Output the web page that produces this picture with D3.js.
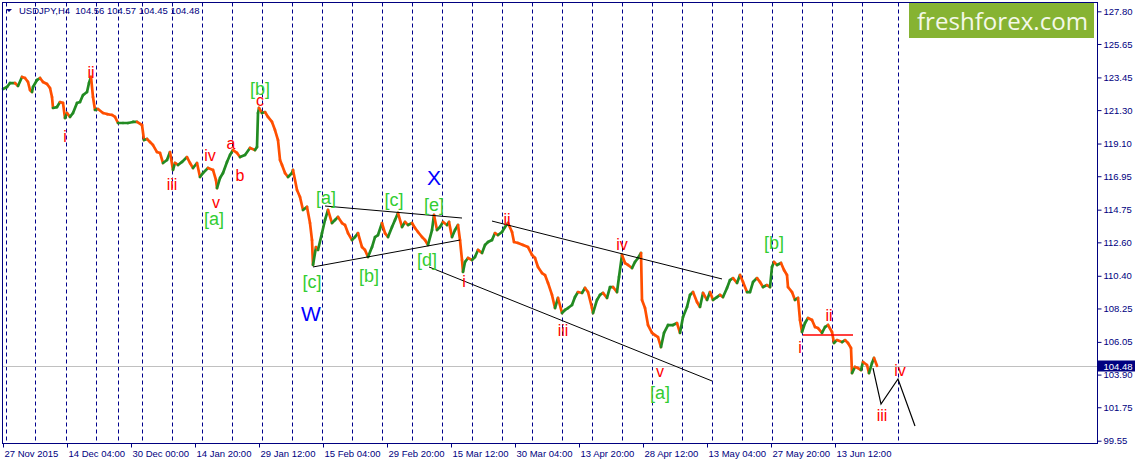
<!DOCTYPE html>
<html><head><meta charset="utf-8">
<script src="https://cdn.jsdelivr.net/npm/d3@7"></script>
<style>
html,body{margin:0;padding:0;background:#fff;}
svg{display:block;}
text{font-family:"Liberation Sans",Arial,sans-serif;}
</style></head>
<body>
<svg id="c" width="1137" height="464"></svg>
<script>
// ---- data (bar index = H4 bars since 27 Nov 2015) ----
const bars = [0,4,7,12,15,19,22,25,27,29,30,34,37,40,44,47,49,50,54,57,60,62,64,67,70,74,77,80,84,86,88,90,92,95,100,104,109,112,115,120,125,130,134,139,141,144,147,150,154,157,160,164,167,170,172,175,179,184,187,190,194,197,200,205,210,213,214,217,220,224,227,230,234,237,242,247,252,254,255,256,259,262,265,269,272,275,277,279,282,285,289,290,294,297,300,304,307,309,310,313,315,319,322,325,329,332,335,339,342,345,349,352,355,359,362,365,369,372,375,379,382,385,389,392,395,399,402,405,409,412,415,419,422,425,429,431,434,437,440,444,446,449,452,455,457,459,460,462,465,469,472,475,479,482,485,489,492,495,499,502,505,509,511,515,520,525,529,532,535,539,542,545,549,552,555,559,562,565,569,572,575,579,582,585,589,590,594,597,600,604,607,610,614,616,619,622,625,629,632,635,638,639,642,645,649,652,655,658,661,665,670,674,677,680,684,687,690,694,697,700,704,707,710,714,717,720,724,727,730,734,737,740,744,747,750,754,757,760,764,767,769,771,774,778,781,784,785,789,792,795,797,799,802,805,809,812,815,819,822,825,829,831,834,839,842,845,848,849,852,855,858,860,864,866,869,871,874];
const closes = [122.69,122.82,123.08,123.08,122.89,123.48,123.41,123.15,122.62,122.49,
122.82,123.28,123.41,123.15,123.02,122.75,122.16,121.44,121.50,121.83,
121.77,120.78,121.11,120.85,121.11,121.77,121.83,122.29,122.49,123.08,
123.48,122.16,121.31,121.37,121.11,121.04,120.98,120.85,120.45,120.45,
120.45,120.52,120.52,120.32,119.33,119.40,119.20,119.00,118.54,118.48,
117.82,118.02,118.54,117.36,117.82,117.69,117.89,118.21,117.82,117.49,
117.82,116.90,117.16,117.49,117.36,116.70,116.17,116.83,117.16,117.89,
118.35,118.67,118.48,118.21,118.35,118.81,118.67,118.87,121.11,121.44,
121.11,121.17,120.85,120.52,119.99,119.33,118.02,117.69,117.16,116.90,
117.16,117.36,116.04,115.58,114.73,114.93,113.87,112.75,111.11,112.29,
112.10,113.21,114.07,114.73,113.87,114.07,114.27,113.87,113.74,113.21,
112.75,112.95,113.21,112.29,112.10,111.64,112.29,112.95,113.08,113.87,
113.21,112.95,113.61,114.07,114.53,113.61,113.94,113.74,113.87,113.54,
113.28,112.95,112.75,112.43,113.41,114.40,113.41,113.61,113.94,113.74,
113.94,112.95,113.41,113.74,112.75,111.44,110.65,111.31,111.57,111.44,
111.64,112.10,111.90,112.43,112.62,112.75,113.21,113.08,113.28,113.61,
113.87,113.28,112.62,112.56,112.43,112.29,111.77,111.57,110.98,110.58,
110.45,109.93,109.14,108.28,108.94,107.95,108.15,108.28,108.48,109.00,
109.33,109.27,109.60,109.33,108.28,107.95,108.81,109.14,109.27,108.94,
109.66,109.66,109.33,110.32,111.77,111.24,111.11,110.91,111.31,111.57,
111.90,108.81,108.28,107.16,106.64,106.50,106.37,105.71,106.64,107.16,
107.16,107.29,106.64,107.69,108.35,109.14,109.33,108.67,108.35,109.27,
108.81,109.33,108.81,109.00,109.14,109.00,109.60,110.12,110.25,109.93,
110.45,109.99,109.33,109.33,109.99,110.25,109.99,109.66,109.79,109.66,
110.98,111.31,111.11,111.24,110.78,110.45,109.66,109.33,108.81,108.94,
107.49,106.70,107.29,107.62,107.49,107.03,106.96,106.64,107.03,107.16,
106.70,105.98,106.17,106.04,106.17,105.98,105.65,104.00,104.40,104.33,
104.20,104.73,104.53,104.00,104.66,104.99,104.48];

const priceTicks = ["127.80","125.65","123.45","121.30","119.10","116.95","114.75","112.60","110.40","108.25","106.05","103.90","101.75","99.55"];
const timeTickBars = [0,64,128,192,256,320,384,448,512,576,640,704,768,832];
const timeTickLabels = ["27 Nov 2015","14 Dec 04:00","30 Dec 00:00","14 Jan 20:00","29 Jan 12:00","15 Feb 04:00","29 Feb 20:00","15 Mar 12:00","30 Mar 04:00","13 Apr 20:00","28 Apr 12:00","13 May 04:00","27 May 20:00","13 Jun 12:00"];
const weekGridBars = [4,33,64,94,116,140,170,200,230,260,290,320,350,380,410,440,470,500,530,560,590,620,650,680,710,740,770,800,830,860,896];

const headerText = "USDJPY,H4  104.56 104.57 104.45 104.48";
const lastPrice = 104.48;

// trend lines [bar1, price1, bar2, price2]
const blackLines = [
  [322,114.99,459,114.20],
  [310,110.98,457,112.75],
  [426,110.98,709,103.48],
  [489,114.00,719,110.19]
];
const redLines = [[800,106.50,850,106.50]];
const projBars = [870,878,895,912];
const projPrices = [104.33,101.96,103.61,100.52];

// wave labels
const labelTexts  = ["ii","i","iii","iv","v","[a]","a","b","[b]","c","[c]","W","[a]","[b]","[c]","X","[e]","[d]","i","ii","iii","iv","v","[a]","[b]","i","ii","iii","iv"];
const labelBars   = [88,62,169,207,213,211,228,237,257,257,309,308,323,366,391,431,431,424,461,504,560,619,657,657,771,797,826,879,897];
const labelPrices = [123.81,119.60,116.44,118.35,115.25,114.20,119.14,117.03,122.75,121.96,109.99,107.95,115.58,110.45,115.45,116.90,115.12,111.44,110.06,114.14,106.83,112.49,104.14,102.69,112.56,105.71,107.82,101.24,104.20];
const labelKinds  = ["r","r","r","r","r","g","r","r","g","r","g","b","g","g","g","b","g","g","r","r","r","r","r","g","g","r","r","r","r"];

// ---- drawing ----
const L = 2.5, T = 2.5, R = 1097.5, B = 443.5;
const navy = "#000080";
const svg = d3.select("#c");

const x = d3.scaleLinear().domain([0, 1094]).range([3, 1097]);
const y = d3.scaleLinear().domain([99.55, 127.80]).range([440.7, 11.3]);

// grid
svg.append("g").selectAll("line").data(weekGridBars).join("line")
  .attr("x1", d => Math.round(x(d)) - 0.5).attr("x2", d => Math.round(x(d)) - 0.5)
  .attr("y1", T).attr("y2", B)
  .attr("stroke", "#00008b").attr("stroke-width", 1).attr("stroke-dasharray", "4,3");

// current price line
svg.append("line").attr("x1", L).attr("x2", R)
  .attr("y1", Math.round(y(lastPrice)) + 0.5).attr("y2", Math.round(y(lastPrice)) + 0.5)
  .attr("stroke", "#c0c0c0");

// logo
svg.append("rect").attr("x", 909).attr("y", 3).attr("width", 185).attr("height", 35).attr("fill", "#86b332");
svg.append("text").attr("x", 917).attr("y", 29.5).attr("fill", "#f4f8e8")
  .style("font-family", "'Open Sans', sans-serif").style("font-size", "24px")
  .attr("textLength", 171).attr("lengthAdjust", "spacingAndGlyphs").text("freshforex.com");

// price segments
const segs = d3.range(1, Math.min(bars.length, closes.length));
svg.append("g").selectAll("line").data(segs).join("line")
  .attr("x1", i => x(bars[i-1])).attr("y1", i => y(closes[i-1]))
  .attr("x2", i => x(bars[i])).attr("y2", i => y(closes[i]))
  .attr("stroke", i => closes[i] >= closes[i-1] ? "#228b22" : "#ff4f00")
  .attr("stroke-width", 2.7).attr("stroke-linecap", "round");

// trend lines
svg.append("g").selectAll("line").data(blackLines).join("line")
  .attr("x1", d => x(d[0])).attr("y1", d => y(d[1]))
  .attr("x2", d => x(d[2])).attr("y2", d => y(d[3]))
  .attr("stroke", "#000").attr("stroke-width", 1);
svg.append("g").selectAll("line").data(redLines).join("line")
  .attr("x1", d => x(d[0])).attr("y1", d => y(d[1]))
  .attr("x2", d => x(d[2])).attr("y2", d => y(d[3]))
  .attr("stroke", "#ff0000").attr("stroke-width", 1.5);
svg.append("path")
  .attr("d", d3.line().x((d,i) => x(projBars[i])).y(d => y(d))(projPrices))
  .attr("fill", "none").attr("stroke", "#000").attr("stroke-width", 1.2);

// wave labels
const kindStyle = {r: {fill: "#ff0000", size: 16}, g: {fill: "#32cd32", size: 18}, b: {fill: "#0000ff", size: 21}};
svg.append("g").selectAll("text").data(labelTexts).join("text")
  .attr("x", (d,i) => x(labelBars[i])).attr("y", (d,i) => y(labelPrices[i]))
  .attr("dy", "0.36em").attr("text-anchor", "middle")
  .attr("fill", (d,i) => kindStyle[labelKinds[i]].fill)
  .style("font-size", (d,i) => kindStyle[labelKinds[i]].size + "px")
  .text(d => d);

// frame
svg.append("rect").attr("x", L).attr("y", T).attr("width", R - L).attr("height", B - T)
  .attr("fill", "none").attr("stroke", navy).attr("stroke-width", 1);

// right axis
const yAxis = d3.axisRight(y).tickValues(priceTicks.map(Number))
  .tickFormat((d,i) => priceTicks[i]).tickSize(4).tickPadding(2);
const ya = svg.append("g").attr("transform", `translate(${R},0)`).call(yAxis);
ya.select(".domain").remove();
ya.selectAll("line").attr("stroke", navy);
ya.selectAll("text").attr("fill", navy).style("font-size", "9.5px").style("font-family", "'Liberation Sans',Arial,sans-serif");

// bottom axis
const xAxis = d3.axisBottom(x).tickValues(timeTickBars)
  .tickFormat((d,i) => timeTickLabels[i]).tickSize(4).tickPadding(3);
const xa = svg.append("g").attr("transform", `translate(0,${B})`).call(xAxis);
xa.select(".domain").remove();
xa.selectAll("line").attr("stroke", navy);
xa.selectAll("text").attr("fill", navy).attr("text-anchor", "start").attr("dx", 1)
  .style("font-size", "9.5px").style("font-family", "'Liberation Sans',Arial,sans-serif");

// last price label
const ly = Math.round(y(lastPrice)) + 0.5;
svg.append("rect").attr("x", 1098).attr("y", ly - 6).attr("width", 37).attr("height", 11).attr("fill", navy);
svg.append("text").attr("x", 1103.5).attr("y", ly).attr("dy", "0.35em").attr("fill", "#fff")
  .style("font-size", "9.5px").text(lastPrice.toFixed(2));

// header
svg.append("path").attr("d", "M6,9 L12,9 L9,12 Z").attr("fill", navy);
svg.append("text").attr("x", 19).attr("y", 14).attr("fill", navy).style("font-size", "9.5px")
  .attr("xml:space", "preserve").style("white-space", "pre").text(headerText);
</script>
</body></html>
